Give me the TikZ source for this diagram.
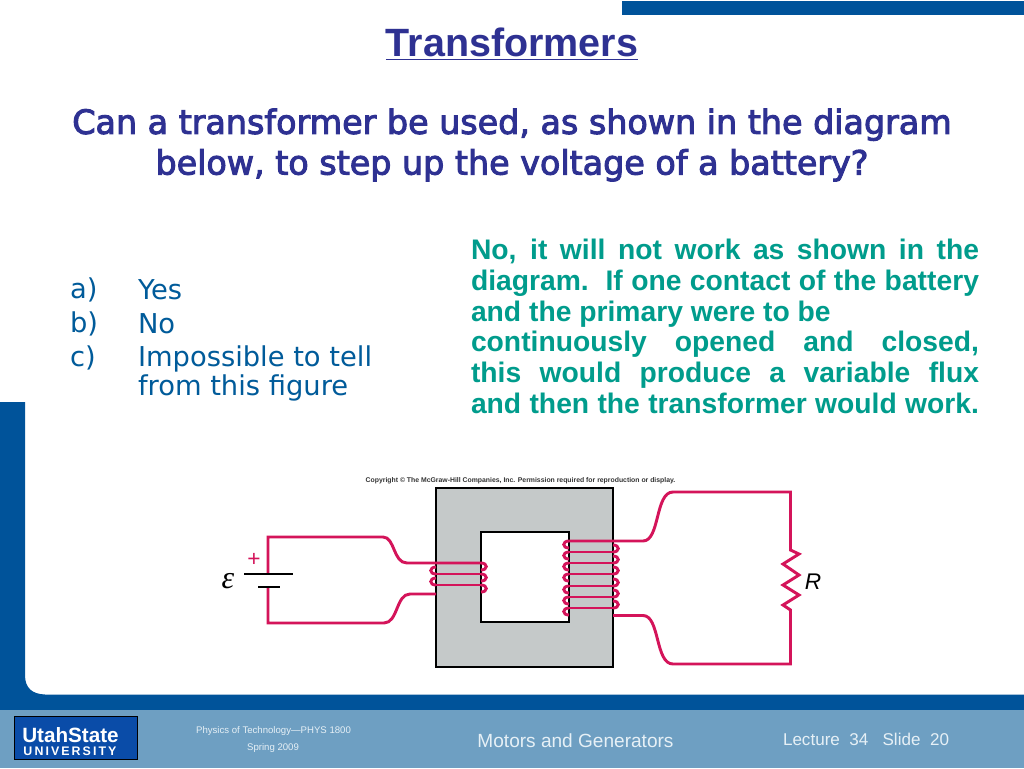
\documentclass[tikz,border=0pt]{standalone}
\usepackage{fontspec}
\setmainfont{Liberation Sans}
\newfontfamily\verd{DejaVu Sans}
\newfontfamily\verdb[FakeBold=3]{DejaVu Sans}
\newfontfamily\serifit[ItalicFont=* Italic]{Liberation Serif}
\definecolor{bandblue}{HTML}{00539A}
\definecolor{footblue}{HTML}{6E9FC2}
\definecolor{titleblue}{HTML}{2E3192}
\definecolor{qblue}{HTML}{2E3192}
\definecolor{listblue}{HTML}{005B9A}
\definecolor{teal}{HTML}{009C8C}
\definecolor{wire}{HTML}{D4145A}
\definecolor{coregray}{HTML}{C5C9C9}
\definecolor{logoblue}{HTML}{0A4CA8}
\definecolor{foottext}{HTML}{E6F0F6}
\begin{document}
\begin{tikzpicture}[x=0.75pt,y=-0.75pt,
  wirepath/.style={draw=wire,line width=2.2pt,line join=miter},
  blk/.style={draw=black,line width=2.2pt},
  txt/.style={inner sep=0pt,outer sep=0pt},
  listtxt/.style={txt,font=\verd\fontsize{20.5pt}{21.5pt}\selectfont,text=listblue}]
\useasboundingbox (0,0) rectangle (1024,768);
\fill[white] (0,0) rectangle (1024,768);
% frame
\fill[bandblue] (622,1) rectangle (1024,15);
\fill[bandblue] (0,402) -- (25,402) -- (25,675) .. controls (25,688) and (32,694) .. (45,694.5) -- (1024,694.5) -- (1024,710) -- (0,710) -- cycle;
\fill[footblue] (0,710) rectangle (1024,768);
% texts
\node[txt,font=\bfseries\fontsize{29.6pt}{32pt}\selectfont,text=titleblue] (title) at (512,44) {\underline{Transformers}};
\node[txt,font=\verdb\fontsize{25pt}{30.5pt}\selectfont,text=qblue,align=center] (question) at (512,145) {Can a transformer be used, as shown in the diagram\\below, to step up the voltage of a battery?};
\node[listtxt,anchor=west] (a) at (70,290) {a)};
\node[listtxt,anchor=west] (ay) at (138,290) {Yes};
\node[listtxt,anchor=west] (b) at (70,324) {b)};
\node[listtxt,anchor=west] (bn) at (138,324) {No};
\node[listtxt,anchor=west] (c) at (70,358) {c)};
\node[listtxt,anchor=north west,align=left] (ci) at (138,346) {Impossible to tell\\from this figure};
\node[txt,anchor=north west,font=\bfseries\fontsize{21.2pt}{23.1pt}\selectfont,text=teal] (answer) at (471,239) {\vbox{\hsize=381pt
\hbox to 381pt{No, it will not work as shown in the}
\hbox to 381pt{diagram.\ \ If one contact of the battery}
\hbox to 381pt{and the primary were to be\hfil}
\hbox to 381pt{continuously opened and closed,}
\hbox to 381pt{this would produce a variable flux}
\hbox to 381pt{and then the transformer would work.}}};
% diagram
\node[txt,font=\bfseries\fontsize{5.15pt}{6pt}\selectfont,text=black!80] (copy) at (520.5,481) {Copyright © The McGraw-Hill Companies, Inc. Permission required for reproduction or display.};
\fill[coregray] (436,488) rectangle (613,667);
\fill[white] (481,532) rectangle (569,622);
\draw[blk] (436,488) rectangle (613,667);
\draw[blk] (481,532) rectangle (569,622);
% primary
\draw[wirepath] (268,574) -- (268,537) -- (383,537) .. controls (395,537) and (393,563) .. (407,563) -- (481,563);
\draw[wirepath] (436,574) -- (481,574);
\draw[wirepath] (436,585) -- (481,585);
\foreach \y in {563,574,585}{
  \draw[wirepath] (481,\y) .. controls (488,\y) and (488,\y+7) .. (481,\y+7);
}
\foreach \y in {574,585}{
  \draw[wirepath] (436,\y) .. controls (429,\y) and (429,\y-7) .. (436,\y-7);
}
\draw[wirepath] (436,594) -- (410,594) .. controls (396,594) and (398,623) .. (384,623) -- (268,623) -- (268,587);
\draw[blk] (244,574) -- (293,574);
\draw[blk] (258,587) -- (280,587);
\node[txt,font=\fontsize{17pt}{17pt}\selectfont,text=wire] (plus) at (254,560) {+};
\node[txt,font=\serifit\itshape\fontsize{24pt}{24pt}\selectfont] (emf) at (228,581) {ε};
% secondary
\draw[wirepath] (569,541) -- (643,541) .. controls (660,541) and (655,492) .. (673,492) -- (790.5,492) -- (790.5,550) -- (799,554) -- (783,564) -- (799,575) -- (783,585) -- (799,595) -- (783,605) -- (790.5,610) -- (790.5,664) -- (673,664) .. controls (655,664) and (660,615.5) .. (643,615.5) -- (613,615.5);
\foreach \y in {552,563,574,586,597,608}{
  \draw[wirepath] (569,\y) -- (613,\y);
  \draw[wirepath] (613,\y) .. controls (620,\y) and (620,\y-7) .. (613,\y-7);
}
\foreach \y in {541,552,563,574,586,597,608}{
  \draw[wirepath] (569,\y) .. controls (562,\y) and (562,\y+7) .. (569,\y+7);
}
\node[txt,font=\itshape\fontsize{17pt}{17pt}\selectfont] (R) at (813,582) {R};
% footer
\node[draw=black,line width=0.8pt,fill=logoblue,minimum width=92pt,minimum height=32.5pt,anchor=north west,inner sep=0pt] (logo) at (14,716) {};
\node[txt,font=\bfseries\fontsize{15.5pt}{15.5pt}\selectfont,text=white] (us) at (70.5,735.5) {UtahState};
\node[txt,font=\bfseries\fontsize{9.3pt}{9.3pt}\selectfont,text=white] (uni) at (70,751) {U\,N\,I\,V\,E\,R\,S\,I\,T\,Y};
\node[txt,font=\fontsize{7.2pt}{8pt}\selectfont,text=foottext] (f1) at (273.5,731) {Physics of Technology---PHYS 1800};
\node[txt,font=\fontsize{7.2pt}{8pt}\selectfont,text=foottext] (f2) at (273,748) {Spring 2009};
\node[txt,font=\fontsize{14.3pt}{16pt}\selectfont,text=foottext] (f3) at (575.5,741) {Motors and Generators};
\node[txt,anchor=west,font=\fontsize{12.8pt}{15pt}\selectfont,text=foottext] (f4) at (783,739) {Lecture\ \ 34\ \ \ Slide\ \ 20};
\end{tikzpicture}
\end{document}
